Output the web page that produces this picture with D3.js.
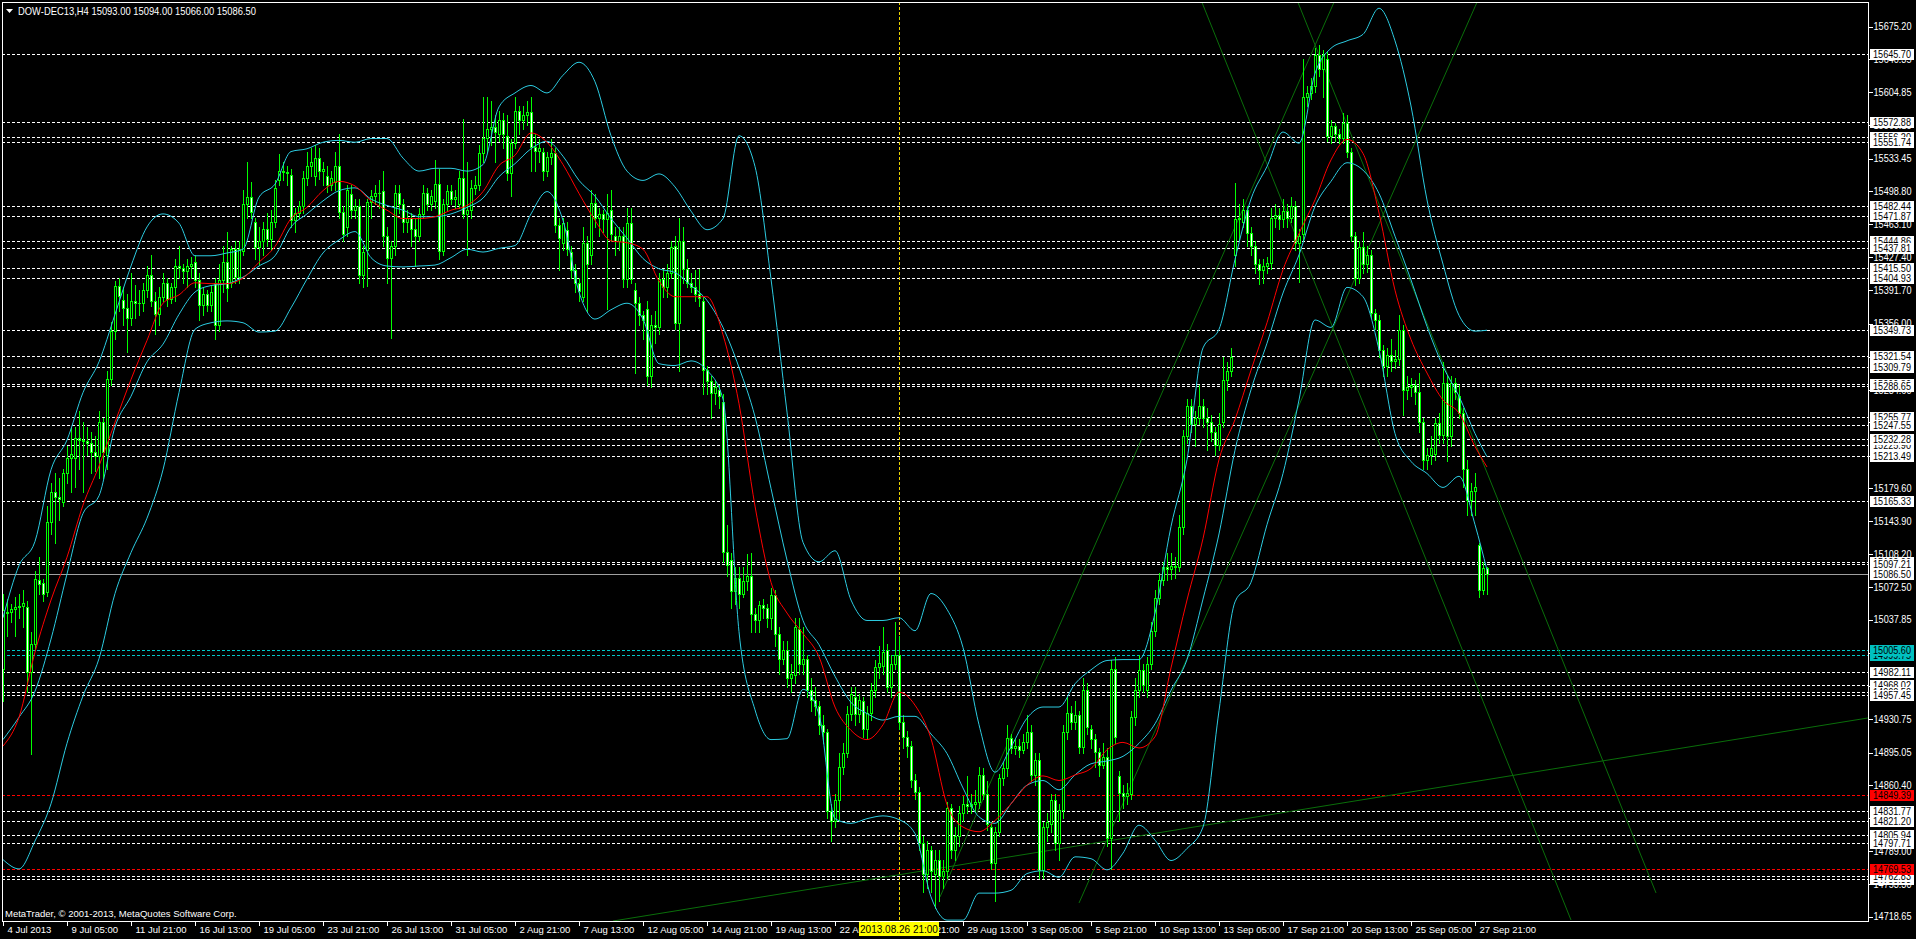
<!DOCTYPE html>
<html><head><meta charset="utf-8">
<script src="https://cdn.jsdelivr.net/npm/d3@7"></script>
<style>
html,body{margin:0;padding:0;background:#000;overflow:hidden}
svg{display:block}
text{font-family:"Liberation Sans",Arial,sans-serif}
</style></head><body>
<svg id="c" width="1916" height="939"></svg>
<script>
// ---------- DATA ----------
const titleText = "DOW-DEC13,H4  15093.00 15094.00 15066.00 15086.50";
const copyrightText = "MetaTrader, \u00A9 2001-2013, MetaQuotes Software Corp.";

const openP = [
14985,15045,15046,15049,15052,15053,15052,14982,15012,15080,
15077,15068,15143,15175,15170,15164,15196,15212,15212,15233,
15231,15230,15228,15218,15214,15250,15215,15297,15348,15397,
15382,15373,15362,15380,15378,15378,15392,15408,15380,15366,
15385,15400,15383,15395,15418,15416,15413,15418,15422,15403,
15376,15388,15376,15400,15355,15403,15422,15400,15436,15406,
15434,15485,15492,15465,15438,15445,15458,15447,15465,15510,
15520,15519,15516,15467,15475,15482,15513,15525,15515,15534,
15520,15515,15505,15508,15525,15476,15460,15495,15478,15483,
15408,15435,15487,15493,15497,15499,15450,15427,15440,15497,
15485,15465,15470,15458,15450,15474,15497,15485,15488,15506,
15434,15485,15499,15490,15485,15513,15474,15478,15502,15505,
15539,15556,15565,15567,15560,15575,15558,15518,15550,15585,
15575,15580,15584,15546,15542,15540,15520,15535,15539,15462,
15443,15457,15433,15414,15400,15385,15443,15430,15486,15470,
15474,15468,15478,15450,15445,15450,15404,15464,15392,15378,
15365,15372,15300,15355,15352,15404,15395,15410,15439,15357,
15445,15415,15400,15395,15388,15380,15306,15294,15282,15285,
15272,15111,15102,15069,15083,15066,15079,15085,15044,15037,
15054,15050,15040,15064,15022,14996,15005,14975,14978,15028,
14990,14996,14962,14952,14945,14925,14917,14832,14822,14844,
14880,14895,14937,14955,14937,14950,14920,14938,14962,14987,
14988,15005,14966,14990,15000,14928,14912,14902,14866,14853,
14798,14765,14790,14765,14780,14762,14768,14835,14790,14805,
14830,14840,14838,14840,14842,14871,14850,14815,14776,14810,
14868,14878,14911,14900,14902,14898,14906,14917,14871,14887,
14769,14815,14818,14844,14798,14833,14917,14938,14928,14935,
14901,14962,14920,14910,14896,14882,14890,14803,14985,14870,
14852,14848,14850,14933,14962,14984,14962,14990,15026,15061,
15080,15094,15092,15096,15095,15138,15235,15268,15248,15255,
15268,15255,15250,15240,15226,15250,15295,15305,15430,15468,
15465,15478,15453,15440,15420,15414,15418,15421,15470,15473,
15468,15477,15470,15482,15443,15452,15600,15604,15611,15645,
15630,15640,15558,15568,15560,15556,15572,15540,15450,15405,
15438,15420,15430,15367,15360,15328,15310,15322,15316,15318,
15349,15285,15288,15290,15283,15250,15210,15215,15216,15249,
15236,15292,15235,15292,15278,15260,15200,15167,15176,15118,
15070,15093];

const highP = [
15065,15060,15055,15062,15065,15070,15058,15025,15090,15105,
15082,15160,15185,15195,15190,15200,15225,15245,15245,15262,
15250,15245,15240,15235,15262,15255,15305,15358,15402,15405,
15395,15388,15410,15398,15392,15400,15418,15430,15390,15395,
15410,15405,15400,15425,15440,15420,15425,15428,15430,15410,
15395,15392,15398,15405,15420,15440,15455,15440,15445,15445,
15500,15530,15508,15470,15460,15465,15475,15478,15510,15538,
15530,15525,15522,15480,15488,15520,15540,15545,15548,15545,
15530,15525,15520,15540,15560,15482,15505,15505,15490,15490,
15440,15490,15500,15505,15510,15520,15460,15445,15505,15505,
15490,15478,15475,15470,15480,15505,15502,15500,15532,15522,
15490,15505,15505,15500,15520,15576,15530,15510,15515,15548,
15600,15600,15595,15580,15585,15582,15580,15555,15600,15590,
15590,15595,15600,15560,15555,15545,15540,15555,15545,15470,
15470,15465,15440,15420,15405,15460,15450,15500,15495,15480,
15478,15495,15500,15460,15460,15460,15480,15480,15400,15385,
15370,15380,15365,15370,15410,15415,15420,15445,15450,15470,
15460,15425,15410,15414,15415,15385,15310,15300,15295,15290,
15280,15140,15110,15095,15095,15095,15109,15110,15050,15058,
15060,15055,15072,15070,15030,15015,15015,14990,15040,15040,
15030,15000,14975,14965,14950,14935,14920,14840,14850,14895,
14905,14945,14965,14965,14958,14955,14945,14970,14995,15010,
15030,15012,15000,15035,15020,14935,14918,14908,14872,14858,
14805,14800,14795,14790,14790,14780,14842,14840,14815,14838,
14848,14870,14850,14855,14880,14878,14865,14820,14815,14872,
14885,14925,14915,14910,14910,14915,14935,14925,14895,14895,
14820,14830,14850,14850,14840,14925,14955,14945,14950,14940,
14975,14970,14925,14915,14900,14905,14900,14995,14998,14875,
14860,14862,14940,14975,15000,14990,14998,15035,15070,15088,
15100,15110,15110,15105,15150,15242,15275,15275,15262,15290,
15275,15265,15258,15245,15260,15320,15315,15330,15507,15485,
15490,15482,15460,15445,15425,15425,15428,15480,15485,15480,
15490,15485,15492,15488,15458,15640,15612,15620,15652,15655,
15650,15648,15575,15572,15565,15582,15580,15545,15455,15445,
15455,15440,15435,15372,15365,15333,15330,15340,15328,15365,
15355,15300,15298,15295,15303,15255,15222,15235,15255,15260,
15315,15300,15300,15298,15290,15265,15210,15185,15195,15120,
15100,15094];

const lowP = [
14950,15020,15035,15020,15040,15030,14960,14893,15005,15065,
15058,15063,15130,15120,15145,15160,15185,15175,15180,15200,
15175,15215,15195,15198,15190,15190,15200,15290,15340,15370,
15355,15326,15355,15362,15365,15370,15385,15375,15345,15355,
15380,15375,15378,15380,15405,15400,15395,15405,15395,15360,
15365,15370,15370,15340,15348,15390,15380,15395,15400,15400,
15430,15470,15470,15425,15420,15430,15440,15435,15460,15505,
15510,15505,15460,15455,15470,15475,15505,15515,15505,15512,
15505,15498,15500,15500,15470,15445,15450,15470,15470,15400,
15395,15397,15470,15485,15480,15440,15400,15341,15430,15475,
15455,15455,15440,15418,15445,15470,15478,15478,15480,15425,
15430,15478,15485,15480,15480,15470,15430,15470,15495,15500,
15530,15540,15548,15530,15552,15545,15510,15493,15545,15560,
15565,15570,15520,15520,15530,15510,15515,15528,15455,15414,
15435,15430,15405,15390,15380,15380,15370,15420,15460,15450,
15455,15372,15445,15430,15435,15395,15395,15400,15303,15355,
15340,15290,15288,15335,15345,15385,15385,15405,15350,15305,
15400,15395,15390,15380,15375,15280,15280,15255,15270,15265,
15100,15085,15050,15055,15050,15062,15070,15025,15025,15025,
15040,15030,15028,15010,14980,14990,14966,14960,14970,14980,
14980,14955,14940,14935,14915,14905,14825,14800,14815,14822,
14872,14890,14930,14925,14928,14912,14910,14930,14955,14975,
14980,14960,14955,14985,14920,14900,14890,14858,14845,14790,
14745,14750,14745,14728,14735,14750,14760,14782,14780,14795,
14822,14830,14830,14832,14835,14845,14812,14770,14735,14805,
14860,14870,14895,14893,14890,14895,14900,14865,14860,14760,
14760,14800,14810,14790,14780,14825,14910,14920,14920,14895,
14895,14915,14900,14880,14870,14878,14795,14770,14905,14822,
14835,14840,14845,14925,14955,14960,14955,14985,15020,15055,
15075,15080,15082,15083,15090,15130,15228,15240,15225,15248,
15245,15220,15230,15215,15220,15245,15285,15300,15418,15445,
15460,15440,15430,15410,15399,15400,15410,15415,15460,15458,
15460,15460,15465,15435,15401,15445,15590,15598,15605,15622,
15600,15552,15550,15552,15550,15550,15535,15445,15398,15400,
15410,15412,15362,15350,15320,15300,15300,15305,15308,15312,
15258,15275,15278,15270,15240,15200,15200,15205,15210,15228,
15228,15208,15225,15275,15255,15180,15150,15150,15150,15062,
15065,15066];

const closeP = [
15048,15046,15049,15052,15053,15056,14982,15012,15082,15076,
15065,15143,15175,15170,15168,15195,15212,15216,15233,15231,
15230,15228,15218,15214,15250,15218,15297,15348,15397,15386,
15373,15362,15380,15378,15378,15392,15408,15380,15366,15385,
15400,15383,15395,15418,15416,15413,15418,15420,15403,15376,
15388,15376,15390,15355,15403,15422,15394,15436,15406,15436,
15485,15492,15476,15438,15445,15458,15447,15465,15502,15520,
15519,15518,15467,15475,15482,15513,15525,15530,15534,15520,
15522,15505,15513,15525,15476,15452,15500,15478,15483,15408,
15433,15487,15493,15497,15497,15450,15427,15440,15497,15485,
15465,15470,15458,15450,15474,15497,15485,15493,15506,15434,
15485,15499,15490,15492,15513,15474,15478,15502,15505,15539,
15556,15565,15567,15562,15575,15560,15518,15550,15585,15575,
15580,15584,15546,15542,15545,15520,15535,15539,15462,15448,
15464,15436,15414,15400,15391,15443,15420,15486,15470,15474,
15468,15475,15452,15445,15450,15404,15464,15404,15378,15365,
15360,15300,15355,15352,15404,15395,15410,15438,15357,15445,
15415,15400,15395,15388,15384,15306,15294,15282,15288,15278,
15111,15097,15069,15083,15066,15079,15085,15044,15037,15054,
15050,15040,15064,15022,14996,15005,14975,14980,15030,14990,
14996,14962,14952,14945,14925,14917,14832,14822,14844,14880,
14895,14937,14958,14937,14952,14920,14938,14962,14987,14991,
15003,14966,14990,15000,14928,14912,14902,14866,14853,14798,
14765,14790,14768,14780,14762,14768,14835,14790,14805,14830,
14840,14838,14840,14842,14871,14850,14818,14776,14810,14868,
14878,14911,14900,14902,14898,14906,14917,14871,14887,14769,
14815,14820,14844,14798,14833,14917,14938,14928,14935,14901,
14962,14922,14910,14896,14882,14890,14803,14985,14912,14852,
14848,14852,14933,14962,14984,14968,14990,15026,15061,15080,
15094,15092,15096,15095,15138,15235,15268,15248,15255,15268,
15255,15250,15240,15226,15248,15295,15305,15320,15468,15470,
15478,15453,15440,15420,15414,15418,15421,15470,15473,15468,
15477,15470,15482,15443,15450,15600,15604,15611,15645,15630,
15645,15558,15568,15560,15556,15572,15540,15450,15405,15438,
15420,15430,15367,15360,15328,15310,15322,15316,15318,15349,
15285,15288,15290,15283,15250,15210,15215,15222,15249,15236,
15292,15235,15292,15283,15260,15200,15167,15176,15181,15070,
15093,15086.5];

// indicator samples (bar index -> value)
const indBars = [0,4,8,12,16,20,24,28,32,36,40,44,48,52,56,60,64,68,72,76,
80,84,88,92,96,100,104,108,112,116,120,124,128,132,136,140,144,148,152,156,
160,164,168,172,176,180,184,188,192,196,200,204,208,212,216,220,224,228,232,236,
240,244,248,252,256,260,264,268,272,276,280,284,288,292,296,300,304,308,312,316,
320,324,328,332,336,340,344,348,352,356,360,364,368,371];

const bbUpper = [
15040,15096,15122,15199,15231,15282,15315,15366,15418,15460,
15474,15464,15429,15429,15432,15436,15492,15506,15541,15544,
15551,15553,15551,15555,15555,15534,15520,15523,15523,15520,
15527,15589,15604,15612,15604,15623,15637,15616,15558,15520,
15510,15517,15503,15477,15457,15469,15558,15525,15404,15261,
15121,15100,15112,15059,15037,15037,15040,15026,15066,15049,
15008,14925,14874,14901,14932,14944,14944,14969,14984,14994,
14995,14995,15045,15138,15210,15330,15350,15425,15490,15525,
15562,15550,15625,15652,15660,15667,15695,15660,15590,15489,
15420,15365,15348,15349];

const bbMiddle = [
14909,14933,14961,15017,15087,15152,15171,15245,15278,15315,
15334,15366,15390,15397,15399,15406,15418,15429,15460,15474,
15488,15499,15502,15490,15483,15478,15471,15471,15474,15481,
15491,15514,15528,15544,15552,15536,15510,15493,15469,15448,
15426,15415,15411,15397,15381,15352,15309,15256,15179,15102,
15037,15011,14977,14949,14937,14930,14934,14934,14915,14894,
14857,14826,14819,14840,14860,14865,14855,14871,14883,14886,
14891,14905,14926,14962,14995,15060,15130,15220,15285,15335,
15389,15430,15482,15509,15529,15521,15496,15450,15403,15353,
15310,15278,15238,15213];

const bbLower = [
14780,14770,14800,14840,14905,14956,14996,15066,15110,15147,
15199,15282,15350,15357,15359,15357,15347,15348,15373,15404,
15432,15446,15455,15427,15418,15417,15418,15419,15427,15436,
15433,15437,15440,15474,15498,15467,15390,15361,15371,15378,
15361,15313,15311,15316,15306,15275,15025,14941,14909,14910,
14963,14936,14824,14819,14824,14827,14823,14808,14740,14715,
14715,14744,14744,14747,14765,14768,14761,14783,14781,14769,
14787,14817,14801,14779,14792,14815,14940,15057,15078,15140,
15195,15274,15360,15352,15395,15385,15328,15238,15208,15195,
15180,15192,15140,15091];

const maRed = [
14902,14933,15003,15059,15105,15161,15203,15250,15296,15338,
15378,15387,15400,15399,15399,15405,15422,15439,15469,15481,
15499,15509,15504,15488,15478,15469,15469,15471,15478,15483,
15498,15526,15537,15561,15551,15527,15496,15467,15445,15443,
15436,15402,15385,15385,15385,15344,15270,15160,15078,15045,
15023,14998,14944,14919,14909,14925,14960,14946,14910,14839,
14815,14810,14822,14840,14860,14870,14865,14871,14878,14898,
14906,14900,14912,14986,15059,15125,15210,15253,15306,15357,
15414,15453,15489,15532,15554,15539,15475,15392,15339,15303,
15274,15260,15224,15202];

// time axis
const timeTickBars = [0,16,32,48,64,80,96,112,128,144,160,176,192,208,224,240,256,272,288,304,320,336,352,368];
const timeTickLabels = ["4 Jul 2013","9 Jul 05:00","11 Jul 21:00","16 Jul 13:00","19 Jul 05:00","23 Jul 21:00",
"26 Jul 13:00","31 Jul 05:00","2 Aug 21:00","7 Aug 13:00","12 Aug 05:00","14 Aug 21:00","19 Aug 13:00",
"22 Aug 05:00","26 Aug 21:00","29 Aug 13:00","3 Sep 05:00","5 Sep 21:00","10 Sep 13:00","13 Sep 05:00",
"17 Sep 21:00","20 Sep 13:00","25 Sep 05:00","27 Sep 21:00"];
const markerBar = 224;
const markerLabel = "2013.08.26 21:00";

// price axis
const priceTicks = [15675.20,15640.35,15604.85,15569.15,15533.45,15498.80,15463.10,15427.40,15391.70,15356.00,
15320.30,15284.60,15249.90,15214.25,15179.60,15143.90,15108.20,15072.50,15037.85,15002.15,14966.45,
14930.75,14895.05,14860.40,14824.70,14789.00,14753.30,14718.65];

// horizontal levels (draw order) and kinds
const levelPrices = [15645.70,15572.88,15556.20,15551.74,15482.44,15471.87,15444.86,15437.81,15415.50,15404.93,
15349.73,15321.54,15309.79,15290.80,15288.65,15225.90,15232.28,15255.77,15247.55,15213.49,15165.33,
15100.00,15097.21,14999.75,15005.60,14982.11,14968.02,14960.50,14957.45,14849.39,14831.77,14821.20,
14805.94,14797.71,14759.33,14762.83,14769.53];
const levelKinds = ["w","w","w","w","w","w","w","w","w","w",
"w","w","w","w","w","w","w","w","w","w","w",
"w","w","c","c","w","w","w","w","r","w","w",
"w","w","w","w","r"];
const currentPrice = 15086.50;

// trend lines: anchor (bar, price) pairs
const trendBar1 = [299.5, 323.5, 333.0, 368.75, 152.5];
const trendPrice1 = [15703.9, 15703.9, 15703.9, 15703.9, 14714.0];
const trendBar2 = [392.0, 413.25, 234.25, 269.0, 480.0];
const trendPrice2 = [14715.1, 14744.2, 14739.9, 14733.4, 14941.8];

// ---------- DRAW ----------
const W = 1916, H = 939;
const L = 2, T = 2, R = 1868, B = 921;
const FONT = "'Liberation Sans',Arial,sans-serif";
const svg = d3.select("#c");
svg.append("rect").attr("width", W).attr("height", H).attr("fill", "#000");

const x = d3.scaleLinear().domain([0, 371]).range([3, 1487]);
const y = d3.scaleLinear().domain([14718.65, 15675.20]).range([916.7, 26.7]);
const px = v => Math.round(x(v));
const py = v => Math.round(y(v));

svg.append("defs").append("clipPath").attr("id", "plot")
  .append("rect").attr("x", L + 1).attr("y", T + 1).attr("width", R - L - 1).attr("height", B - T - 1);

const plot = svg.append("g").attr("clip-path", "url(#plot)");

// level lines
const levelColor = {w: "#ffffff", r: "#ff0000", c: "#00c8c8"};
plot.append("g").selectAll("line").data(levelPrices).join("line")
  .attr("x1", L).attr("x2", R)
  .attr("y1", d => py(d) + 0.5).attr("y2", d => py(d) + 0.5)
  .attr("stroke", (d, i) => levelColor[levelKinds[i]])
  .attr("stroke-width", 1).attr("stroke-dasharray", "3,2")
  .attr("shape-rendering", "crispEdges");

// current price line
plot.append("line").attr("x1", L).attr("x2", R)
  .attr("y1", py(currentPrice) + 0.5).attr("y2", py(currentPrice) + 0.5)
  .attr("stroke", "#a0a0a0").attr("shape-rendering", "crispEdges");

// vertical marker
plot.append("line").attr("x1", px(markerBar) + 0.5).attr("x2", px(markerBar) + 0.5)
  .attr("y1", T).attr("y2", B)
  .attr("stroke", "#e8d000").attr("stroke-dasharray", "3,2").attr("shape-rendering", "crispEdges");

// trend lines
plot.append("g").selectAll("line").data(trendBar1).join("line")
  .attr("x1", (d, i) => x(trendBar1[i])).attr("y1", (d, i) => y(trendPrice1[i]))
  .attr("x2", (d, i) => x(trendBar2[i])).attr("y2", (d, i) => y(trendPrice2[i]))
  .attr("stroke", "#0a6e0a").attr("stroke-width", 1);

// candles
const bars = d3.range(closeP.length);
const cg = plot.append("g").attr("shape-rendering", "crispEdges");
const lime = "#00ff00";
bars.forEach(i => {
  const o = openP[i], c = closeP[i];
  const hi = Math.max(highP[i], o, c), lo = Math.min(lowP[i], o, c);
  const cx = px(i);
  const yh = py(hi), yl = py(lo);
  cg.append("rect").attr("x", cx).attr("y", yh).attr("width", 1).attr("height", Math.max(1, yl - yh + 1)).attr("fill", lime);
  const top = py(Math.max(o, c)), bot = py(Math.min(o, c));
  const hgt = Math.max(1, bot - top + 1);
  cg.append("rect").attr("x", cx - 1).attr("y", top).attr("width", 3).attr("height", hgt).attr("fill", lime);
  if (hgt > 2) {
    cg.append("rect").attr("x", cx).attr("y", top + 1).attr("width", 1).attr("height", hgt - 2)
      .attr("fill", c >= o ? "#000000" : "#ffffff");
  }
});

// indicators
const lineGen = vals => d3.line().x((d, i) => x(indBars[i])).y(d => y(d)).curve(d3.curveMonotoneX)(vals);
const cyan = "#2ccbe0";
[bbUpper, bbMiddle, bbLower].forEach(arr => {
  plot.append("path").attr("d", lineGen(arr)).attr("fill", "none").attr("stroke", cyan).attr("stroke-width", 1);
});
plot.append("path").attr("d", lineGen(maRed)).attr("fill", "none").attr("stroke", "#ff0000").attr("stroke-width", 1);

// frame
svg.append("rect").attr("x", L + 0.5).attr("y", T + 0.5).attr("width", R - L).attr("height", B - T)
  .attr("fill", "none").attr("stroke", "#ffffff").attr("shape-rendering", "crispEdges");

// price axis
const ya = svg.append("g").attr("transform", `translate(${R + 0.5},0)`)
  .call(d3.axisRight(y).tickValues(priceTicks).tickFormat(d3.format(".2f")).tickSize(4).tickSizeOuter(0));
ya.select(".domain").remove();
ya.selectAll(".tick line").attr("stroke", "#ffffff").attr("shape-rendering", "crispEdges");
ya.selectAll(".tick text").attr("fill", "#ffffff").attr("font-size", "10px")
  .attr("font-family", FONT).attr("x", 5)
  .attr("textLength", 38).attr("lengthAdjust", "spacingAndGlyphs");

// time axis
const xa = svg.append("g").attr("transform", `translate(0,${B + 0.5})`)
  .call(d3.axisBottom(x).tickValues(timeTickBars).tickFormat((d, i) => timeTickLabels[i]).tickSize(4).tickSizeOuter(0));
xa.select(".domain").remove();
xa.selectAll(".tick line").attr("stroke", "#ffffff").attr("shape-rendering", "crispEdges");
xa.selectAll(".tick text").attr("fill", "#ffffff").attr("font-size", "9.5px")
  .attr("font-family", FONT)
  .attr("text-anchor", "start").attr("x", 4).attr("y", 5);

// level labels
const boxBg = {w: "#ffffff", r: "#ff0000", c: "#00c0c0"};
const lab = svg.append("g");
function priceBox(p, bg) {
  const yy = py(p);
  lab.append("rect").attr("x", R + 2).attr("y", yy - 5).attr("width", 44).attr("height", 11)
    .attr("fill", bg).attr("shape-rendering", "crispEdges");
  lab.append("text").attr("x", R + 5).attr("y", yy + 4).attr("fill", "#000").attr("font-size", "10px")
    .attr("font-family", FONT).attr("textLength", 38).attr("lengthAdjust", "spacingAndGlyphs")
    .text(d3.format(".2f")(p));
}
levelPrices.forEach((p, i) => priceBox(p, boxBg[levelKinds[i]]));
priceBox(currentPrice, "#ffffff");

// marker label
{
  const mx = px(markerBar);
  svg.append("rect").attr("x", mx - 40).attr("y", B + 1).attr("width", 80).attr("height", 14)
    .attr("fill", "#ffff00").attr("shape-rendering", "crispEdges");
  svg.append("text").attr("x", mx).attr("y", B + 12).attr("text-anchor", "middle")
    .attr("fill", "#000").attr("font-size", "10px").attr("font-family", FONT).text(markerLabel);
}

// title
svg.append("path").attr("d", "M6,9 L13,9 L9.5,13 Z").attr("fill", "#ffffff");
svg.append("text").attr("x", 18).attr("y", 15).attr("fill", "#ffffff").attr("font-size", "10.5px")
  .attr("font-family", FONT).attr("textLength", 238).attr("lengthAdjust", "spacingAndGlyphs").text(titleText);

// copyright
svg.append("text").attr("x", 5).attr("y", 917).attr("fill", "#ffffff").attr("font-size", "9.5px")
  .attr("font-family", FONT).text(copyrightText);
</script>
</body></html>
